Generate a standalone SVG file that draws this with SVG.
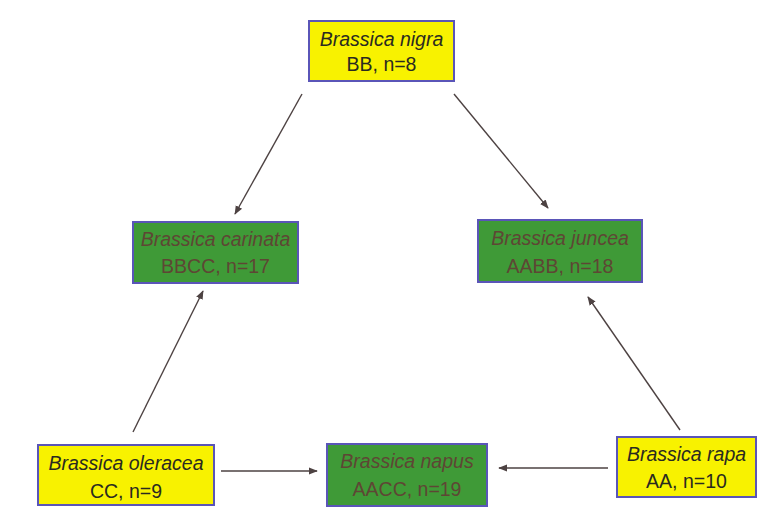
<svg xmlns="http://www.w3.org/2000/svg" width="775" height="517" viewBox="0 0 775 517">
<style>
.box{stroke:#5a55b8;stroke-width:2}
.y{fill:#f8f200}
.g{fill:#3f9a37}
text{font-family:"Liberation Sans",Arial,sans-serif;font-size:19.5px;text-anchor:middle}
.yt{fill:#2a2a20}
.gt{fill:#5e4634}
.it{font-style:italic}
.c{stroke:#4d4242;stroke-width:1.4;fill:none;marker-end:url(#ah)}
</style>
<defs>
<marker id="ah" viewBox="0 0 10 10" refX="9" refY="5" markerWidth="9" markerHeight="9" orient="auto" markerUnits="userSpaceOnUse">
<path d="M0,1 L10,5 L0,9 Z" fill="#4d4242"/>
</marker>
</defs>
<rect width="775" height="517" fill="#ffffff"/>
<g id="connectors">
<line class="c" x1="302" y1="94" x2="235" y2="214"/>
<line class="c" x1="454" y1="94" x2="548" y2="208"/>
<line class="c" x1="133" y1="432" x2="203" y2="291"/>
<line class="c" x1="680" y1="430" x2="588" y2="297"/>
<line class="c" x1="221" y1="471" x2="317" y2="471"/>
<line class="c" x1="608" y1="468" x2="499" y2="468"/>
</g>
<g id="nigra">
<rect class="box y" x="309" y="21" width="145" height="60"/>
<text class="yt it" x="381.5" y="46">Brassica nigra</text>
<text class="yt" x="381.5" y="71">BB, n=8</text>
</g>
<g id="carinata">
<rect class="box g" x="133" y="222" width="165" height="61"/>
<text class="gt it" x="215.5" y="246">Brassica carinata</text>
<text class="gt" x="215.5" y="273">BBCC, n=17</text>
</g>
<g id="juncea">
<rect class="box g" x="478" y="220" width="164" height="62"/>
<text class="gt it" x="560" y="245">Brassica juncea</text>
<text class="gt" x="560" y="273">AABB, n=18</text>
</g>
<g id="oleracea">
<rect class="box y" x="38" y="445" width="176" height="60"/>
<text class="yt it" x="126" y="470">Brassica oleracea</text>
<text class="yt" x="126" y="498">CC, n=9</text>
</g>
<g id="napus">
<rect class="box g" x="327" y="444" width="160" height="62"/>
<text class="gt it" x="407" y="468">Brassica napus</text>
<text class="gt" x="407" y="496">AACC, n=19</text>
</g>
<g id="rapa">
<rect class="box y" x="617" y="437" width="139" height="60"/>
<text class="yt it" x="686.5" y="461">Brassica rapa</text>
<text class="yt" x="686.5" y="488">AA, n=10</text>
</g>
</svg>
